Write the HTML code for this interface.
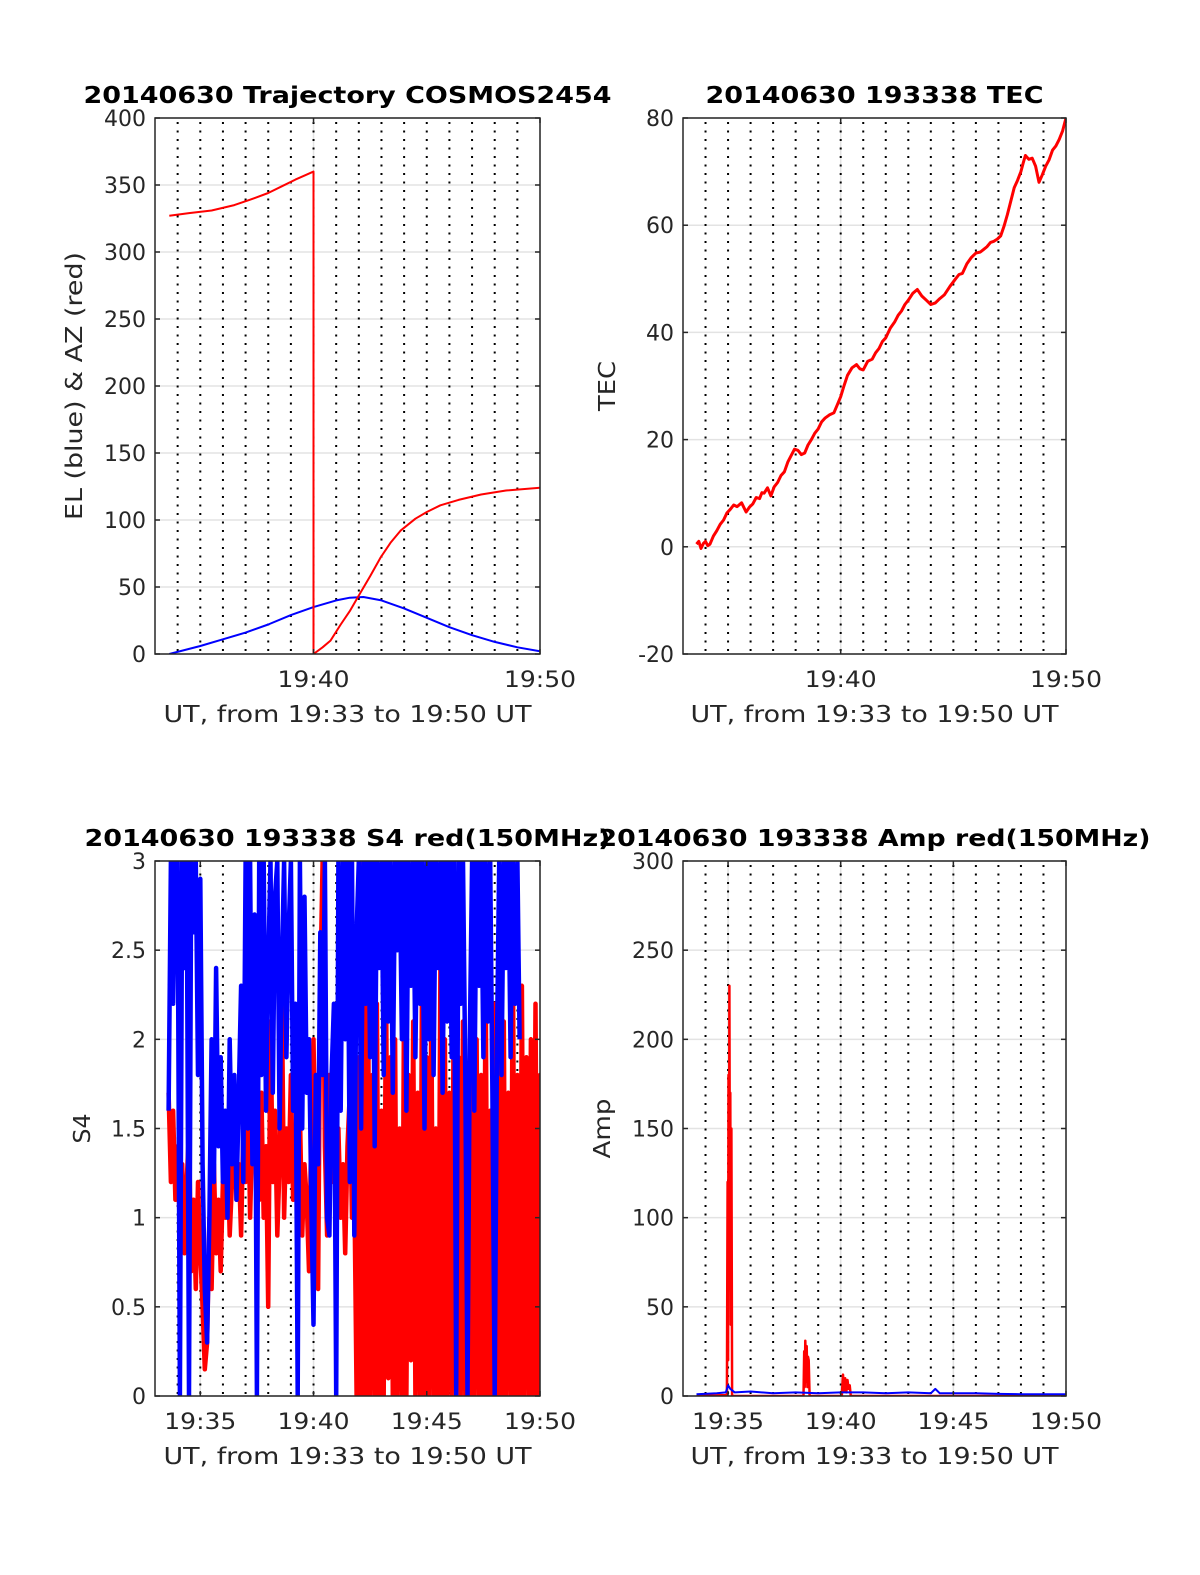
<!DOCTYPE html>
<html><head><meta charset="utf-8"><style>
body{margin:0;background:#fff}
svg{display:block}
text{font-family:"DejaVu Sans","Liberation Sans",sans-serif;fill:#262626}
</style></head><body>
<svg id="fig" width="1200" height="1575" viewBox="0 0 1200 1575" xmlns="http://www.w3.org/2000/svg"></svg>
<script>
// ---------- data ----------
const azTime = [33.63,34.5,35.5,36.5,37.2,38,38.6,39.2,39.6,40.0,40.0,40.4,40.75,41.2,41.6,41.94,42.5,42.96,43.4,43.84,44.5,45.0,45.6,46.4,47.4,48.5,50];
const azVals = [327,329,331,335,339,344,349,354,357,360,0,5,10,22,32,42,58,72,83,92,101,106,111,115,119,122,124];
const elTime = [33.63,35,36,37,38,39,40,41,41.6,42.2,43,44,45,46,47,48,49,50];
const elVals = [0,6,11,16,22,29,35,40,42,42.5,40,34,27,20,14,9,5,2];

const tecTime = [33.6,33.7,33.8,33.9,34.0,34.1,34.2,34.35,34.5,34.65,34.8,34.95,35.1,35.25,35.4,35.6,35.8,35.95,36.1,36.25,36.4,36.5,36.6,36.75,36.9,37.05,37.2,37.35,37.5,37.65,37.8,37.95,38.1,38.25,38.4,38.55,38.7,38.85,39.0,39.15,39.3,39.5,39.7,39.85,40.0,40.15,40.3,40.5,40.7,40.85,41.0,41.2,41.4,41.55,41.7,41.85,42.0,42.2,42.4,42.55,42.7,42.85,43.0,43.2,43.4,43.6,43.8,44.0,44.2,44.4,44.6,44.85,45.1,45.25,45.4,45.6,45.8,46.0,46.2,46.35,46.5,46.65,46.8,46.95,47.1,47.25,47.4,47.55,47.7,47.85,48.0,48.1,48.2,48.35,48.5,48.65,48.8,48.95,49.1,49.25,49.4,49.55,49.7,49.85,50.0];
const tecVals = [0.5,1,-0.3,0.6,1,0.2,0.5,2,3,4.2,5,6.3,7,7.8,7.5,8.2,6.5,7.4,8,9.2,9,10.1,10,11,9.5,11.2,12,13.3,14,15.8,17,18.2,18,17.2,17.5,19,20,21.2,22,23.3,24,24.6,25,26.5,28,30.1,32,33.4,34,33.2,33,34.6,35,36.2,37,38.3,39,40.8,42,43.2,44,45.2,46,47.3,48,46.8,46,45.2,45.5,46.3,47,48.6,50,50.8,51,52.8,54,54.8,55,55.5,56,56.8,57,57.4,58,59.8,62,64.5,67,68.4,70,71.6,73,72.3,72.5,71,68,69.4,71,72.2,74,74.8,76,77.6,80];

const s4Start = 33.6, s4Step = 0.1;
const s4Red = [1.7,1.2,1.6,1.1,1.4,0.9,1.3,0.8,1.2,1.5,0.7,1.1,0.6,1.2,0.8,
0.5,0.15,0.3,
1.0,0.6,1.3,0.8,1.1,0.7,1.2,
1.0,1.4,0.9,1.2,1.6,1.1,1.3,0.9,1.5,
1.2,1.8,1.0,1.5,2.0,1.3,1.1,1.7,1.0,1.4,0.5,2.1,1.2,1.6,0.9,1.3,2.3,1.0,1.5,1.2,1.8,1.1,1.4,
1.0,1.6,0.9,1.3,1.1,0.7,1.5,2.0,1.2,0.6,2.3,3.0,1.4,0.9,1.8,1.2,1.6,
1.1,1.5,1.0,1.3,0.8,1.4,1.7,1.0,1.2,
0,1.9,0,3.0,0,2.5,0,1.8,0,2.2,0,1.6,0,2.4,0.1,1.9,0,2.0,0,1.5,0,2.3,0,1.8,0.2,2.1,0,1.7,0,2.6,0,1.9,0,2.2,0,1.5,0,2.4,0,2.0,0,1.7,0,2.5,0.3,1.9,0,2.1,0,1.6,0,2.3,0,2.0,0,1.8,0,2.4,0,1.6,0,2.2,0,1.9,0,2.1,0,1.7,0,2.6,0,1.8,0,2.3,0,1.9,0,2.0,0,2.2,0,1.8,0,2.5,0,1.9];
const s4Blue = [1.6,3,2.2,3,3,
0,3,2.4,3,0,
3,2.6,3,1.8,2.9,
1.3,0.6,0.3,
1.0,2.0,1.2,2.4,1.4,1.9,1.2,
1.6,1.0,2.0,1.3,1.8,1.1,1.7,2.3,1.2,
3,1.5,3,1.3,2.7,0,
3,1.8,3,1.6,2.4,3,1.7,2.8,3,1.5,2.4,3,1.9,2.6,3,1.6,2.2,0,
3,1.5,2.8,1.7,2.0,1.1,0.4,1.8,1.3,2.6,
1.8,3,1.0,0.9,1.8,2.2,0,
3,1.6,3,2.0,3,1.2,3,0.9,2.6,3,1.5,3,2.2,3,1.9,3,1.4,3,2.4,3,1.8,3,2.1,3,1.7,3,2.5,3,2.0,3,1.6,3,2.3,3,1.9,3,2.2,3,1.5,3,2.0,3,1.8,3,2.4,3,1.7,3,2.1,3,1.9,3,0,3,2.2,3,1.8,0,2.0,3,1.6,3,2.3,3,1.9,3,2.1,3,1.7,0,2.0,3,1.8,3,2.4,3,1.9,3,2.2,3,2.0];

const ampRedTime = [33.6,34.9,34.95,34.98,35.0,35.02,35.04,35.06,35.08,35.1,35.12,35.15,35.18,38.35,38.38,38.4,38.43,38.46,38.49,38.52,38.55,38.58,38.62,38.65,40.05,40.1,40.15,40.2,40.25,40.3,40.35,40.4,40.45,50];
const ampRedVals = [0,0.5,0,120,20,180,60,230,100,170,40,150,0,0,25,5,31,8,28,5,22,20,0,0,0,12,3,10,2,9,4,6,0,0];
const ampBlueTime = [33.6,34.5,34.9,35.0,35.1,35.3,36,37,38,39,40,41,42,43,44,44.2,44.4,45,46,47,48,49,50];
const ampBlueVals = [1,1.5,2,6,4,2,2.5,1.5,2,1.5,2,2,1.5,2,1.5,4,1.5,1.5,1.5,1.2,1,1,1];

const yTicksTraj = [0,50,100,150,200,250,300,350,400];
const yTicksTec = [-20,0,20,40,60,80];
const yTicksS4 = [0,0.5,1,1.5,2,2.5,3];
const yTicksAmp = [0,50,100,150,200,250,300];
const xTicksTop = [40,50];
const xTicksBottom = [35,40,45,50];

// ---------- drawing ----------
const NS='http://www.w3.org/2000/svg';
const svg=document.getElementById('fig');
function mk(tag,attrs,parent){const e=document.createElementNS(NS,tag);for(const k in attrs)e.setAttribute(k,attrs[k]);(parent||svg).appendChild(e);return e;}
function fmtTime(m){return '19:'+String(m).padStart(2,'0');}

function makeAxes(name,L,R,T,B,ymin,ymax,yticks,xticks,title,titleW,ylabel,ylx,ylW){
  const g=mk('g',{});
  
  
  const sx=t=>L+(t-33)/(50-33)*(R-L);
  const sy=v=>B-(v-ymin)/(ymax-ymin)*(B-T);
  const clipId='clip-'+name;
  const cp=mk('clipPath',{id:clipId},g);mk('rect',{x:L,y:T,width:R-L,height:B-T},cp);
  yticks.forEach(v=>{const l=mk('line',{x1:L,x2:R,y1:sy(v),y2:sy(v),stroke:'#e3e3e3','stroke-width':1.5},g);
    });
  xticks.forEach(t=>{const l=mk('line',{x1:sx(t),x2:sx(t),y1:T,y2:B,stroke:'#e3e3e3','stroke-width':1.5},g);
    });
  for(let m=34;m<=49;m++){const l=mk('line',{x1:sx(m),x2:sx(m),y1:T+4,y2:B,stroke:'#000','stroke-width':2,'stroke-dasharray':'2,6.5'},g);
    }
  const plot=mk('g',{'clip-path':'url(#'+clipId+')'},g);
  
  const fr=mk('rect',{x:L,y:T,width:R-L,height:B-T,fill:'none',stroke:'#262626','stroke-width':1.5},g);
  
  yticks.forEach(v=>{
    mk('line',{x1:L,x2:L+5,y1:sy(v),y2:sy(v),stroke:'#262626','stroke-width':1.5},g);
    mk('line',{x1:R,x2:R-5,y1:sy(v),y2:sy(v),stroke:'#262626','stroke-width':1.5},g);
    const tx=mk('text',{x:L-9,y:sy(v)+8,'text-anchor':'end','font-size':22},g);tx.textContent=v;
    
  });
  xticks.forEach(t=>{
    mk('line',{x1:sx(t),x2:sx(t),y1:B,y2:B-5,stroke:'#262626','stroke-width':1.5},g);
    mk('line',{x1:sx(t),x2:sx(t),y1:T,y2:T+5,stroke:'#262626','stroke-width':1.5},g);
    const tx=mk('text',{x:sx(t),y:B+33,'text-anchor':'middle','font-size':22,textLength:72,lengthAdjust:'spacingAndGlyphs'},g);tx.textContent=fmtTime(t);
    
  });
  const xl=mk('text',{x:(L+R)/2,y:B+68,'text-anchor':'middle','font-size':23,textLength:368,lengthAdjust:'spacingAndGlyphs'},g);xl.textContent='UT, from 19:33 to 19:50 UT';
  
  const yl=mk('text',{x:0,y:0,'text-anchor':'middle','font-size':23,textLength:ylW,lengthAdjust:'spacingAndGlyphs',transform:'translate('+ylx+','+((T+B)/2)+') rotate(-90)'},g);yl.textContent=ylabel;
  
  const ti=mk('text',{x:(L+R)/2,y:T-15,'text-anchor':'middle','font-size':23,'font-weight':'bold',textLength:titleW,lengthAdjust:'spacingAndGlyphs',style:'fill:#000'},g);ti.textContent=title;
  
  return {sx,sy,plot};
}
function line(ax,times,vals,color,w,name){
  const pts=times.map((t,i)=>ax.sx(t).toFixed(1)+','+ax.sy(vals[i]).toFixed(1)).join(' ');
  const p=mk('polyline',{points:pts,fill:'none',stroke:color,'stroke-width':w,'stroke-linejoin':'round'},ax.plot);
  
  
}
const s4Times=arr=>arr.map((_,i)=>s4Start+i*s4Step);

const a1=makeAxes('trajectory-chart',155,540,118,654,0,400,yTicksTraj,xTicksTop,'20140630 Trajectory COSMOS2454',528,'EL (blue) & AZ (red)',82,268);
line(a1,elTime,elVals,'#0000ff',2,'elevation-line');
line(a1,azTime,azVals,'#ff0000',2,'azimuth-line');

const a2=makeAxes('tec-chart',683,1066,118,654,-20,80,yTicksTec,xTicksTop,'20140630 193338 TEC',338,'TEC',615,50);
line(a2,tecTime,tecVals,'#ff0000',3,'tec-line');

const a3=makeAxes('s4-chart',155,540,861,1396,0,3,yTicksS4,xTicksBottom,'20140630 193338 S4 red(150MHz)',526,'S4',90,30);
line(a3,s4Times(s4Red),s4Red,'#ff0000',4.5,'s4-red-line');
line(a3,s4Times(s4Blue),s4Blue,'#0000ff',4.5,'s4-blue-line');

const a4=makeAxes('amp-chart',683,1066,861,1396,0,300,yTicksAmp,xTicksBottom,'20140630 193338 Amp red(150MHz)',552,'Amp',610,60);
line(a4,ampRedTime,ampRedVals,'#ff0000',2.5,'amp-red-line');
line(a4,ampBlueTime,ampBlueVals,'#0000ff',2,'amp-blue-line');
</script>
</body></html>
